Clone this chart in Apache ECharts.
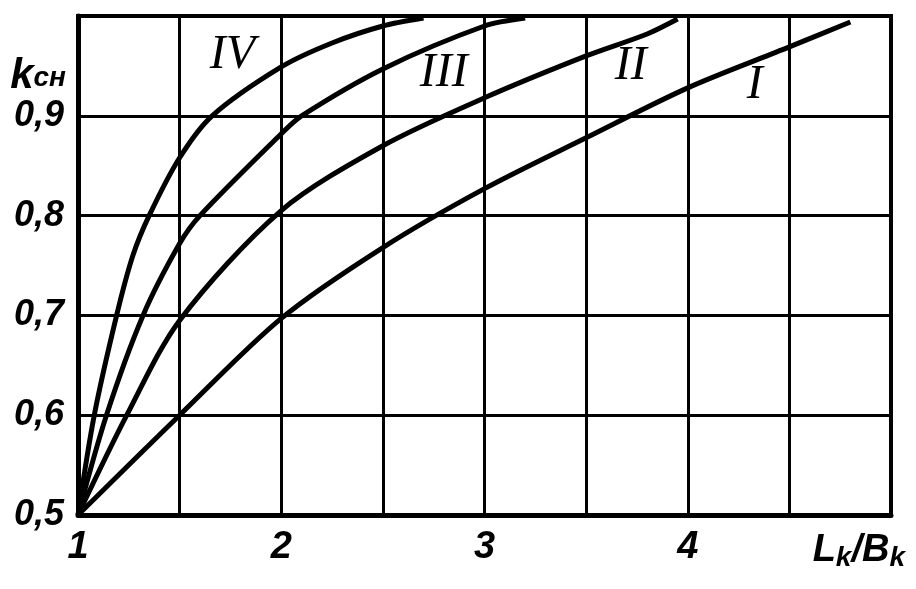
<!DOCTYPE html>
<html><head><meta charset="utf-8">
<script src="https://cdn.jsdelivr.net/npm/echarts@6/dist/echarts.min.js"></script>
<style>html,body{margin:0;padding:0;background:#fff}#c{width:916px;height:589px}</style>
</head><body><div id="c"></div>
<script>
const xTickLabels = {1:'1', 2:'2', 3:'3', 4:'4'};
const yTickLabels = ['0,5','0,6','0,7','0,8','0,9'];
const curveNames = ['I','II','III','IV'];
const curveI   = [[1,0.5],[1.5,0.6],[2,0.697],[2.5,0.768],[3,0.827],[3.5,0.878],[4,0.928],[4.5,0.969],[4.8,0.994]];
const curveII  = [[1,0.5],[1.24,0.6],[1.5,0.695],[2,0.805],[2.5,0.87],[3,0.918],[3.5,0.96],[3.8,0.982],[3.95,0.997]];
const curveIII = [[1,0.5],[1.14,0.6],[1.32,0.7],[1.5,0.772],[1.6,0.8],[2,0.882],[2.1,0.9],[2.5,0.947],[3,0.99],[3.2,0.998]];
const curveIV  = [[1,0.5],[1.08,0.6],[1.19,0.7],[1.27,0.76],[1.35,0.8],[1.5,0.858],[1.66,0.9],[2,0.949],[2.25,0.973],[2.5,0.99],[2.7,0.998]];
const curves = [curveI, curveII, curveIII, curveIV];
const nameAnchors = [[4.33,0.930],[3.72,0.950],[2.80,0.943],[1.76,0.961]];

const numFont = "'Liberation Sans','DejaVu Sans',sans-serif";
const romanFont = "'Liberation Serif','DejaVu Serif',serif";

const chart = echarts.init(document.getElementById('c'), null, {renderer:'canvas'});
chart.setOption({
  backgroundColor:'#fff',
  animation:false,
  grid:{left:78,right:25,top:16,bottom:74,show:true,borderColor:'#000',borderWidth:4,backgroundColor:'transparent'},
  xAxis:{
    type:'value',min:1,max:5,interval:0.5,
    axisLine:{show:true,onZero:false,lineStyle:{color:'#000',width:5}},
    axisTick:{show:false},
    splitLine:{show:true,lineStyle:{color:'#000',width:3}},
    axisLabel:{
      color:'#000',fontFamily:numFont,fontStyle:'italic',fontWeight:'bold',fontSize:38,margin:14,
      formatter:v=>{const k=Math.round(v*2)/2; return (Number.isInteger(k) && xTickLabels[k]) ? xTickLabels[k] : '';}
    },
    name:'{a|L}{s|k}{a|/B}{s|k}',
    nameLocation:'end',nameGap:14,
    nameTextStyle:{
      align:'right',verticalAlign:'top',padding:[16,0,0,0],
      rich:{
        a:{fontFamily:numFont,fontStyle:'italic',fontWeight:'bold',fontSize:38,color:'#000',height:40,verticalAlign:'top'},
        s:{fontFamily:numFont,fontStyle:'italic',fontWeight:'bold',fontSize:28,color:'#000',height:54,verticalAlign:'bottom'}
      }
    }
  },
  yAxis:{
    type:'value',min:0.5,max:1.0,interval:0.1,
    axisLine:{show:true,onZero:false,lineStyle:{color:'#000',width:5}},
    axisTick:{show:false},
    splitLine:{show:true,lineStyle:{color:'#000',width:3}},
    axisLabel:{
      color:'#000',fontFamily:numFont,fontStyle:'italic',fontWeight:'bold',fontSize:36,margin:14,
      formatter:v=>{const i=Math.round((v-0.5)*10); return yTickLabels[i]||'';}
    },
    name:'{a|k}{s|сн}',
    nameLocation:'end',nameGap:-44,
    nameTextStyle:{
      align:'right',verticalAlign:'top',padding:[0,12,0,0],
      rich:{
        a:{fontFamily:numFont,fontStyle:'italic',fontWeight:'bold',fontSize:42,color:'#000',height:42,verticalAlign:'top'},
        s:{fontFamily:numFont,fontStyle:'italic',fontWeight:'bold',fontSize:28,color:'#000',height:44,verticalAlign:'bottom'}
      }
    }
  },
  series:curves.map((d,i)=>({
    type:'line',name:curveNames[i],data:d,smooth:0.3,
    showSymbol:false,symbol:'none',clip:true,
    lineStyle:{color:'#000',width:5},
    markPoint:{
      symbol:'circle',symbolSize:0,
      label:{show:true,formatter:curveNames[i],color:'#000',fontFamily:romanFont,fontStyle:'italic',fontSize:48,position:'inside'},
      data:[{coord:nameAnchors[i]}]
    }
  }))
});
</script></body></html>
